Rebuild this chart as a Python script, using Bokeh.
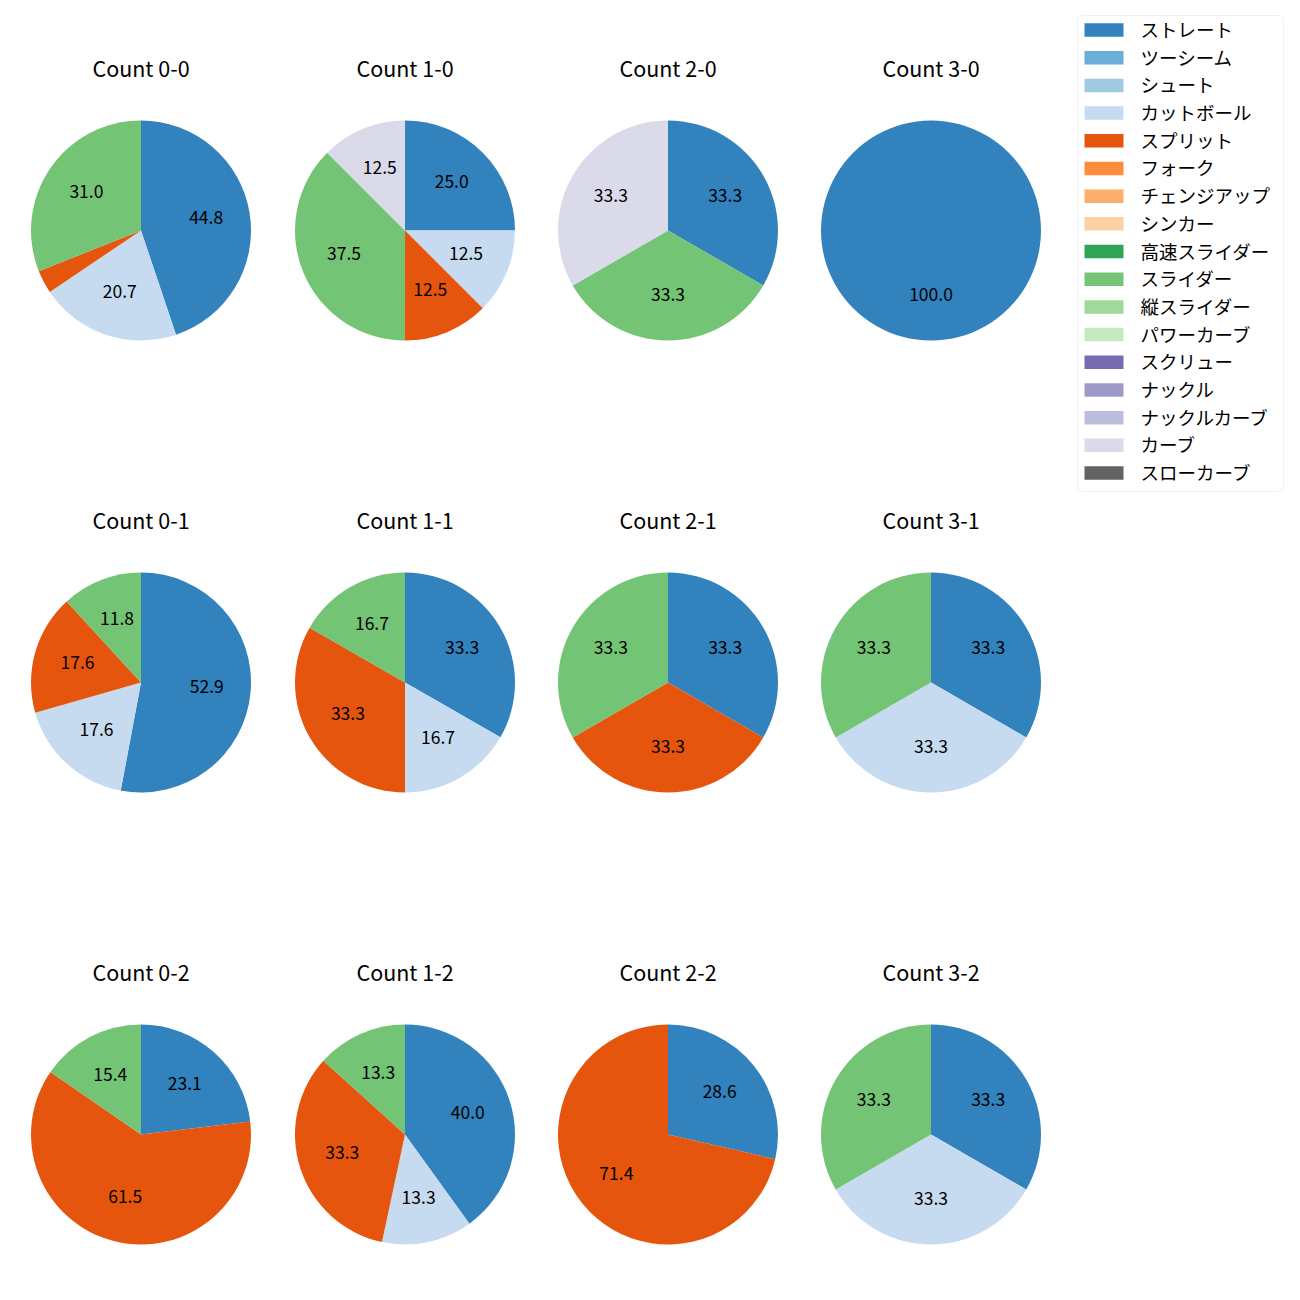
import math
from bokeh.plotting import figure
from bokeh.models import Range1d, BoxAnnotation, ColumnDataSource
from bokeh.core.properties import value
from bokeh.embed import file_html
from bokeh.resources import INLINE

FONT = "Noto Sans CJK JP"

pitch_types = ["ストレート", "ツーシーム", "シュート", "カットボール", "スプリット", "フォーク",
               "チェンジアップ", "シンカー", "高速スライダー", "スライダー", "縦スライダー",
               "パワーカーブ", "スクリュー", "ナックル", "ナックルカーブ", "カーブ", "スローカーブ"]
colors = ["#3182bd", "#6baed6", "#9ecae1", "#c6dbef", "#e6550d", "#fd8d3c", "#fdae6b",
          "#fdd0a2", "#31a354", "#74c476", "#a1d99b", "#c7e9c0", "#756bb1", "#9e9ac8",
          "#bcbddc", "#dadaeb", "#636363"]

counts = ["0-0", "1-0", "2-0", "3-0", "0-1", "1-1", "2-1", "3-1", "0-2", "1-2", "2-2", "3-2"]

# percentages per pitch type, one value per count (order as in `counts`)
straight = [44.8, 25.0, 33.3, 100.0, 52.9, 33.3, 33.3, 33.3, 23.1, 40.0, 28.6, 33.3]
cutball  = [20.7, 12.5, 0, 0, 17.6, 16.7, 0, 33.3, 0, 13.3, 0, 33.3]
split    = [3.4, 12.5, 0, 0, 17.6, 33.3, 33.3, 0, 61.5, 33.3, 71.4, 0]
slider   = [31.0, 37.5, 33.3, 0, 11.8, 16.7, 33.3, 33.3, 15.4, 13.3, 0, 33.3]
curve    = [0, 12.5, 33.3, 0, 0, 0, 0, 0, 0, 0, 0, 0]

series = {"ストレート": straight, "カットボール": cutball, "スプリット": split,
          "スライダー": slider, "カーブ": curve}

# layout (screen pixels)
col_x = [140.5, 404.5, 667.5, 930.5]
row_y = [230, 682, 1134]
R = 110
title_dy = 163
label_dy = 2

W, H = 1284, 1284
p = figure(width=W, height=H, output_backend="svg", toolbar_location=None,
           x_range=Range1d(0, W), y_range=Range1d(-H, 0),
           min_border=0, outline_line_color=None)
p.axis.visible = False
p.grid.visible = False
p.background_fill_color = "white"
p.border_fill_color = "white"

wx, wy, ws, we, wc = [], [], [], [], []
lx, ly, lt = [], [], []
tx, ty, tt = [], [], []

for i, c in enumerate(counts):
    cx = col_x[i % 4]
    cy = -row_y[i // 4]
    vals = []
    for k, name in enumerate(pitch_types):
        v = series.get(name, [0] * len(counts))[i]
        if v > 0:
            vals.append((v, colors[k]))
    total = sum(v for v, _ in vals)
    cum = 0.0
    for v, col in vals:
        frac = v / total
        a0 = math.pi / 2 - 2 * math.pi * cum
        a1 = math.pi / 2 - 2 * math.pi * (cum + frac)
        if frac >= 0.9999:
            a1 += 1e-4
        wx.append(cx); wy.append(cy); ws.append(a1); we.append(a0); wc.append(col)
        if frac * 100 >= 5:
            mid = (a0 + a1) / 2
            lx.append(cx + 0.6 * R * math.cos(mid))
            ly.append(cy + 0.6 * R * math.sin(mid) + label_dy)
            lt.append(f"{v:.1f}")
        cum += frac
    tx.append(cx); ty.append(cy + title_dy); tt.append(f"Count {c}")

p.wedge(x="x", y="y", radius=R, start_angle="s", end_angle="e", direction="anticlock",
        fill_color="c", line_color=None,
        source=ColumnDataSource(dict(x=wx, y=wy, s=ws, e=we, c=wc)))
p.text(x=lx, y=ly, text=lt, text_align="center", text_baseline="middle",
       text_font=value(FONT), text_font_size="17.5px", text_color="black")
p.text(x=tx, y=ty, text=tt, text_align="center", text_baseline="middle",
       text_font=value(FONT), text_font_size="21.5px", text_color="black")

# legend
leg_left, leg_right, leg_top, leg_bottom = 1077, 1283, 15, 491
p.add_layout(BoxAnnotation(left=leg_left, right=leg_right, top=-leg_top, bottom=-leg_bottom,
                           fill_alpha=0, line_color="#cccccc",
                           line_width=1, border_radius=4))
row0 = 29.5
dy = (472.5 - 29.5) / 16
gy = [-(row0 + j * dy) for j in range(len(pitch_types))]
p.rect(x=[1103.5] * len(pitch_types), y=gy, width=39, height=13.5,
       fill_color=colors, line_color=None)
p.text(x=[1140] * len(pitch_types), y=[g + 1 for g in gy], text=pitch_types, text_align="left",
       text_baseline="middle", text_font=value(FONT), text_font_size="18.5px",
       text_color="black")

open("out.html", "w").write(file_html(p, INLINE))
